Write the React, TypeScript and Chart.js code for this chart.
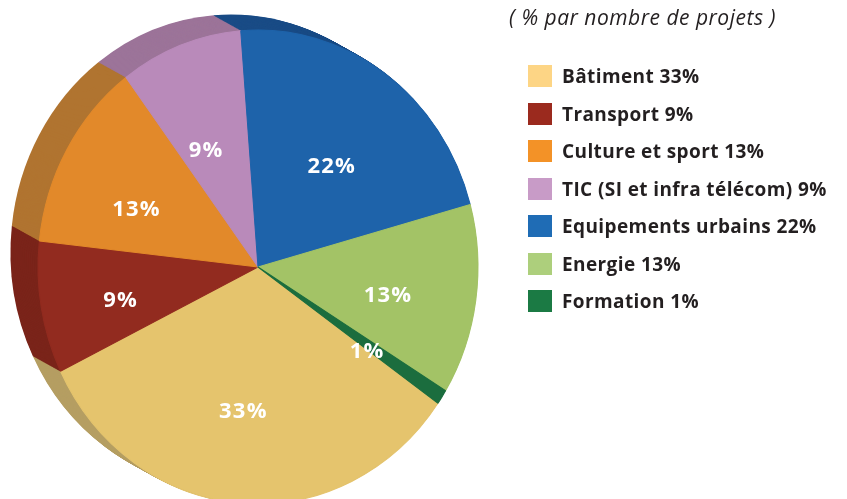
import React, { useEffect, useRef } from "react";
import { Chart, registerables } from "chart.js";

Chart.register(...registerables);

const categories = [
  "Bâtiment",
  "Transport",
  "Culture et sport",
  "TIC (SI et infra télécom)",
  "Equipements urbains",
  "Energie",
  "Formation",
];
const shares = [33, 9, 13, 9, 22, 13, 1];
const faceColors = ["#E5C46D", "#922B1F", "#E2892A", "#B98ABA", "#1E63AA", "#A3C366", "#1B6D3E"];
const sideColors = ["#B59E62", "#7A241A", "#B07430", "#9C7499", "#1A4C86", "#82A052", "#145530"];
const legendColors = ["#FDD585", "#9B2A1E", "#F39227", "#C89BC7", "#1F6CB5", "#ADCF7C", "#1B7A44"];
const legendTitle = "( % par nombre de projets )";

const SCALE_Y = 1.077;
const DEPTH_X = -27;
const DEPTH_Y = -15;
const LABEL_FRACTION = 0.615;
const LABEL_SHIFT_X = -4;
const LABEL_SHIFT_Y = 10;

const pie3d = {
  id: "pie3d",
  beforeDatasetsDraw(chart: any) {
    const ctx = chart.ctx;
    const arcs = chart.getDatasetMeta(0).data;
    ctx.save();
    if (!arcs.length) return;
    const c = arcs[0].getProps(["x", "y"], true);
    ctx.translate(c.x, c.y);
    ctx.scale(1, SCALE_Y);
    ctx.translate(-c.x, -c.y);
    const steps = 40;
    for (let k = steps; k >= 1; k--) {
      const ox = (DEPTH_X * k) / steps;
      const oy = ((DEPTH_Y / SCALE_Y) * k) / steps;
      arcs.forEach((arc: any, i: number) => {
        const p = arc.getProps(["x", "y", "startAngle", "endAngle", "outerRadius"], true);
        ctx.beginPath();
        ctx.moveTo(p.x + ox, p.y + oy);
        ctx.arc(p.x + ox, p.y + oy, p.outerRadius + 0.5, p.startAngle, p.endAngle);
        ctx.closePath();
        ctx.fillStyle = sideColors[i];
        ctx.fill();
      });
    }
  },
  afterDatasetsDraw(chart: any) {
    const ctx = chart.ctx;
    ctx.restore();
    const arcs = chart.getDatasetMeta(0).data;
    ctx.save();
    ctx.font = "bold 22px 'Open Sans', 'Noto Sans', sans-serif";
    try {
      (ctx as any).letterSpacing = "1.2px";
    } catch (e) {}
    ctx.fillStyle = "#ffffff";
    ctx.textAlign = "center";
    ctx.textBaseline = "middle";
    arcs.forEach((arc: any, i: number) => {
      const p = arc.getProps(["x", "y", "startAngle", "endAngle", "outerRadius"], true);
      const mid = (p.startAngle + p.endAngle) / 2;
      const rho = p.outerRadius * LABEL_FRACTION;
      const lx = p.x + LABEL_SHIFT_X + rho * Math.cos(mid);
      const ly = p.y + LABEL_SHIFT_Y + rho * Math.sin(mid);
      ctx.fillText(shares[i] + "%", lx, ly);
    });
    ctx.restore();
  },
};

export default function App() {
  const ref = useRef<HTMLCanvasElement | null>(null);
  useEffect(() => {
    if (!ref.current) return;
    const chart = new Chart(ref.current, {
      type: "pie",
      data: {
        labels: categories,
        datasets: [
          {
            data: shares,
            backgroundColor: faceColors,
            borderColor: faceColors,
            borderWidth: 1,
            radius: 220,
            clip: false as any,
          } as any,
        ],
      },
      options: {
        responsive: false,
        animation: false,
        rotation: 129.6 - 4.5,
        layout: { padding: { left: 0, right: 331, top: 35, bottom: 0 } },
        plugins: {
          legend: { display: false },
          tooltip: { enabled: false },
          title: { display: false },
        },
      },
      plugins: [pie3d],
    });
    return () => chart.destroy();
  }, []);

  return (
    <div style={{ position: "absolute", left: 0, top: 0, width: 847, height: 499, background: "#fff", overflow: "hidden" }}>
      <canvas ref={ref} width={847} height={499} style={{ position: "absolute", left: 0, top: 0 }} />
      <div
        style={{
          position: "absolute",
          left: 509,
          top: 3,
          fontFamily: "'Open Sans', 'Noto Sans', sans-serif",
          fontStyle: "italic",
          fontSize: 21,
          letterSpacing: "0.5px",
          color: "#231f20",
          whiteSpace: "nowrap",
          lineHeight: "28px",
        }}
      >
        {legendTitle}
      </div>
      <div style={{ position: "absolute", left: 528, top: 65, display: "flex", flexDirection: "column", gap: 15.5 }}>
        {categories.map((c, i) => (
          <div key={c} style={{ display: "flex", alignItems: "center", height: 22 }}>
            <div style={{ width: 24, height: 22, background: legendColors[i], flex: "none" }} />
            <span
              style={{
                marginLeft: 10,
                fontFamily: "'Open Sans', 'Noto Sans', sans-serif",
                fontWeight: 700,
                fontSize: 19,
                letterSpacing: "0.4px",
                color: "#231f20",
                whiteSpace: "nowrap",
                lineHeight: "22px",
              }}
            >
              {c + " " + shares[i] + "%"}
            </span>
          </div>
        ))}
      </div>
    </div>
  );
}
